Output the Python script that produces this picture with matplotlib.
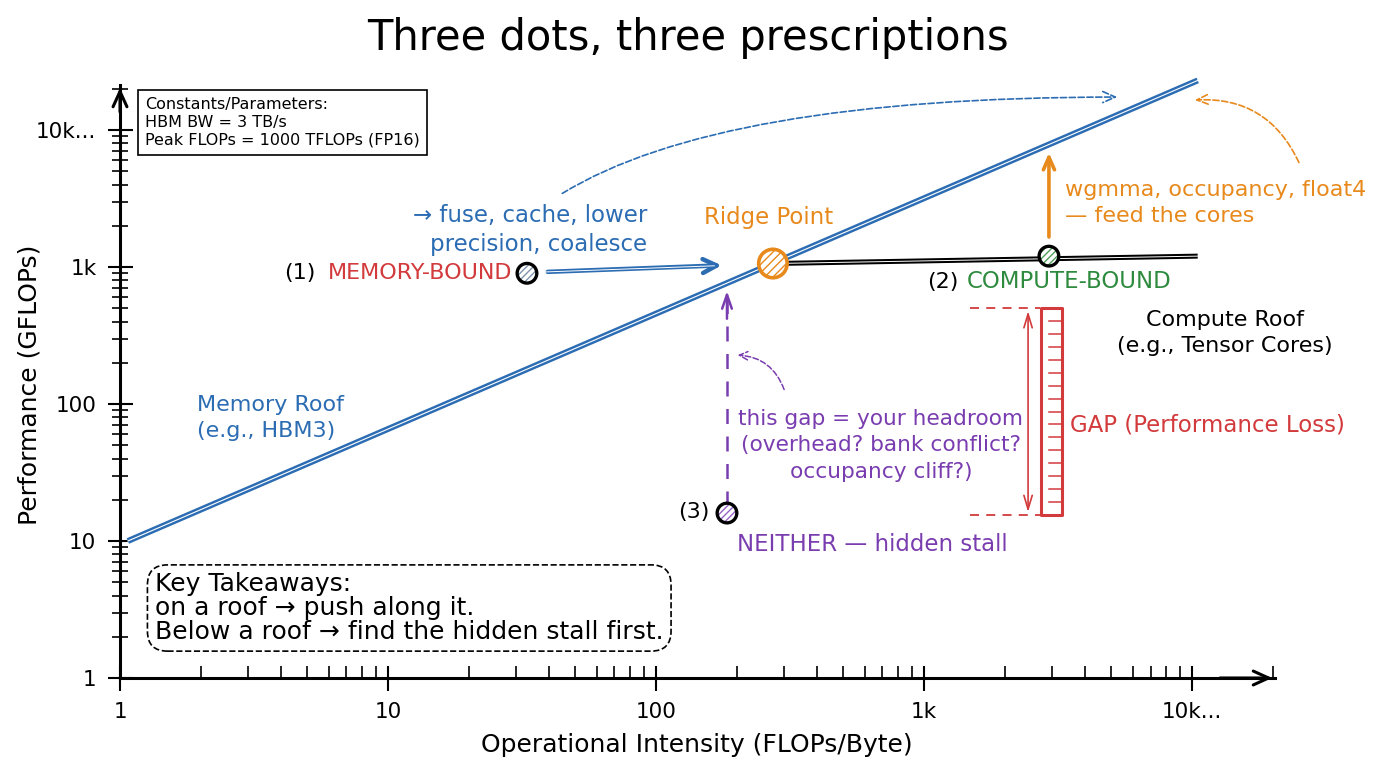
import numpy as np
import matplotlib.pyplot as plt
from matplotlib.ticker import LogLocator, FuncFormatter, NullFormatter

plt.rcParams['font.family'] = ['DejaVu Sans']

# roofline (GFLOPs vs FLOPs/Byte)
mem_roof_x = [1.07, 10500]
mem_roof_y = [10, 23000]
comp_roof_x = [273, 10500]
comp_roof_y = [1060, 1200]
ridge_x, ridge_y = 273, 1060

# the three kernels
kernel_x = [33, 2925, 184]
kernel_y = [900, 1200, 16]
kernel_fill = ['#7f95ad', '#4f9f5c', '#9563c6']

tick_vals = [1, 10, 100, 1000, 10000]
tick_names = ['1', '10', '100', '1k', '10k...']

# gap for kernel (3)
gap_top, gap_bottom = 500, 15.5

blue = '#2b6cb3'
orange = '#e8891c'
red = '#d23a3c'
green = '#2e8b3e'
purple = '#7a3db0'

fig = plt.figure(figsize=(13.76, 7.68), dpi=100)
ax = fig.add_axes([120/1376, 90/768, 1155/1376, 593/768])
ax.set_xscale('log')
ax.set_yscale('log')
ax.set_xlim(1, 20400)
ax.set_ylim(1, 21300)

for s in ['top', 'right']:
    ax.spines[s].set_visible(False)
for s in ['left', 'bottom']:
    ax.spines[s].set_linewidth(2.2)

lab = dict(zip(tick_vals, tick_names))
fmt = FuncFormatter(lambda v, p: lab.get(int(round(v)), ''))
for a in [ax.xaxis, ax.yaxis]:
    a.set_major_locator(LogLocator(base=10, numticks=10))
    a.set_minor_locator(LogLocator(base=10, subs=np.arange(2, 10), numticks=10))
    a.set_major_formatter(fmt)
    a.set_minor_formatter(NullFormatter())
ax.tick_params(axis='both', which='major', direction='inout', length=18, width=1.5, labelsize=15.5, pad=8)
ax.tick_params(axis='x', which='minor', direction='in', length=9, width=1.2)
ax.tick_params(axis='y', which='minor', direction='inout', length=12, width=1.2)

# axis arrowheads
ax.annotate('', xy=(1.0, 0), xytext=(0.95, 0), xycoords='axes fraction',
            arrowprops=dict(arrowstyle='->,head_length=1.1,head_width=0.5', lw=2.2, color='black'),
            annotation_clip=False)
ax.annotate('', xy=(0, 1.0), xytext=(0, 0.95), xycoords='axes fraction',
            arrowprops=dict(arrowstyle='->,head_length=1.1,head_width=0.5', lw=2.2, color='black'),
            annotation_clip=False)

# roofs, drawn as double strokes
ax.plot(mem_roof_x, mem_roof_y, color=blue, lw=4.3, solid_capstyle='butt', clip_on=False)
ax.plot(mem_roof_x, mem_roof_y, color='white', lw=0.8, clip_on=False)
ax.plot(comp_roof_x, comp_roof_y, color='black', lw=3.6, solid_capstyle='butt')
ax.plot(comp_roof_x, comp_roof_y, color='white', lw=0.7)

# ridge point
ax.scatter([ridge_x], [ridge_y], s=420, facecolor='white', edgecolor=orange, hatch='////', lw=0, zorder=5)
ax.scatter([ridge_x], [ridge_y], s=420, facecolor='none', edgecolor=orange, lw=2.6, zorder=6)

# kernels
for x, y, c in zip(kernel_x, kernel_y, kernel_fill):
    ax.scatter([x], [y], s=200, facecolor='white', edgecolor=c, hatch='/////', lw=0, zorder=5)
    ax.scatter([x], [y], s=200, facecolor='none', edgecolor='black', lw=2.4, zorder=6)

# (1) -> ridge arrow
ax.annotate('', xy=(180, 1030), xytext=(38.5, 920),
            arrowprops=dict(arrowstyle='->,head_length=1.0,head_width=0.5', color=blue, lw=3.2))
ax.plot([38.5, 165], [920, 1020], color='white', lw=0.7, zorder=4)

# blue dashed curve toward the top of the memory roof
ax.annotate('', xy=(5390, 17400), xytext=(43.8, 3360),
            arrowprops=dict(arrowstyle='->,head_length=0.9,head_width=0.4', color=blue, lw=1.2,
                            ls='--', connectionstyle='angle3,angleA=32,angleB=0'))

# orange: compute-bound -> toward memory roof
ax.annotate('', xy=(2925, 7140), xytext=(2925, 1580),
            arrowprops=dict(arrowstyle='->,head_length=0.9,head_width=0.4', color=orange, lw=2.6))
ax.annotate('', xy=(10000, 16500), xytext=(25300, 5550),
            arrowprops=dict(arrowstyle='->,head_length=0.8,head_width=0.35', color=orange, lw=1.2,
                            ls='--', connectionstyle='arc3,rad=0.35'), annotation_clip=False)

# purple: neither -> up toward the roof
ax.plot([kernel_x[2], kernel_x[2]], [18, 640], color=purple, lw=1.8, ls=(0, (6, 5)))
ax.annotate('', xy=(kernel_x[2], 700), xytext=(kernel_x[2], 400),
            arrowprops=dict(arrowstyle='->,head_length=1.0,head_width=0.35', color=purple, lw=1.8))
ax.annotate('', xy=(197, 228), xytext=(303, 122),
            arrowprops=dict(arrowstyle='->,head_length=0.6,head_width=0.3', color=purple, lw=1.1,
                            ls='--', connectionstyle='arc3,rad=0.35'))

# red gap marker + ruler
ax.plot([1485, 2710], [gap_top, gap_top], color=red, lw=1.3, ls=(0, (5, 4)))
ax.plot([1485, 2710], [gap_bottom, gap_bottom], color=red, lw=1.3, ls=(0, (5, 4)))
ax.annotate('', xy=(2445, gap_top), xytext=(2445, gap_bottom),
            arrowprops=dict(arrowstyle='<->,head_length=1.0,head_width=0.3', color=red, lw=1.2))
ax.fill_between([2735, 3270], gap_bottom, gap_top, facecolor='white', edgecolor=red, lw=2.2, zorder=3)
for t in np.geomspace(gap_bottom, gap_top, 17)[1:-1]:
    ax.plot([2930, 3270], [t, t], color=red, lw=1.1, zorder=4)

# text
tk = dict(fontsize=16)
ax.text(92.5, 1860, '→ fuse, cache, lower\nprecision, coalesce', color=blue, ha='right', va='center',
        ma='right', linespacing=1.3, fontsize=16.5)
ax.text(5.38, 900, '(1)', color='black', ha='right', va='center', **tk)
ax.text(29, 900, 'MEMORY-BOUND', color=red, ha='right', va='center', **tk)
ax.text(262, 2280, 'Ridge Point', color=orange, ha='center', va='center', fontsize=16.5)
ax.text(3360, 2930, 'wgmma, occupancy, float4\n— feed the cores', color=orange, ha='left', va='center',
        linespacing=1.35, **tk)
ax.text(1340, 780, '(2)', color='black', ha='right', va='center', **tk)
ax.text(1446, 780, 'COMPUTE-BOUND', color=green, ha='left', va='center', fontsize=16.5)
ax.text(13300, 330, 'Compute Roof\n(e.g., Tensor Cores)', color='black', ha='center', va='center',
        linespacing=1.4, **tk)
ax.text(1.94, 79, 'Memory Roof\n(e.g., HBM3)', color=blue, ha='left', va='center', linespacing=1.4, **tk)
ax.text(690, 50, 'this gap = your headroom\n(overhead? bank conflict?\noccupancy cliff?)', color=purple,
        ha='center', va='center', linespacing=1.4, fontsize=15.6)
ax.text(3510, 70, 'GAP (Performance Loss)', color=red, ha='left', va='center', fontsize=16.5)
ax.text(159, 16.3, '(3)', color='black', ha='right', va='center', **tk)
ax.text(200, 9.35, 'NEITHER — hidden stall', color=purple, ha='left', va='center', fontsize=16.5)

ax.text(1.24, 17500, 'Constants/Parameters:\nHBM BW = 3 TB/s\nPeak FLOPs = 1000 TFLOPs (FP16)',
        fontsize=11.5, ha='left', va='top', linespacing=1.25,
        bbox=dict(boxstyle='square,pad=0.45', fc='white', ec='black', lw=1.2))
ax.text(1.35, 5.9, 'Key Takeaways:\non a roof → push along it.\nBelow a roof → find the hidden stall first.',
        fontsize=18, ha='left', va='top', linespacing=0.98,
        bbox=dict(boxstyle='round,pad=0.3,rounding_size=0.8', fc='white', ec='black', lw=1.2, ls='--'))

fig.text(0.5, 1 - 38/768, 'Three dots, three prescriptions', fontsize=30, ha='center', va='center')
fig.text(697/1376, 1 - 745/768, 'Operational Intensity (FLOPs/Byte)', fontsize=18, ha='center', va='center')
fig.text(30/1376, 1 - 385/768, 'Performance (GFLOPs)', fontsize=18, ha='center', va='center', rotation=90)

fig.savefig('out.png', dpi=100, facecolor='white')
